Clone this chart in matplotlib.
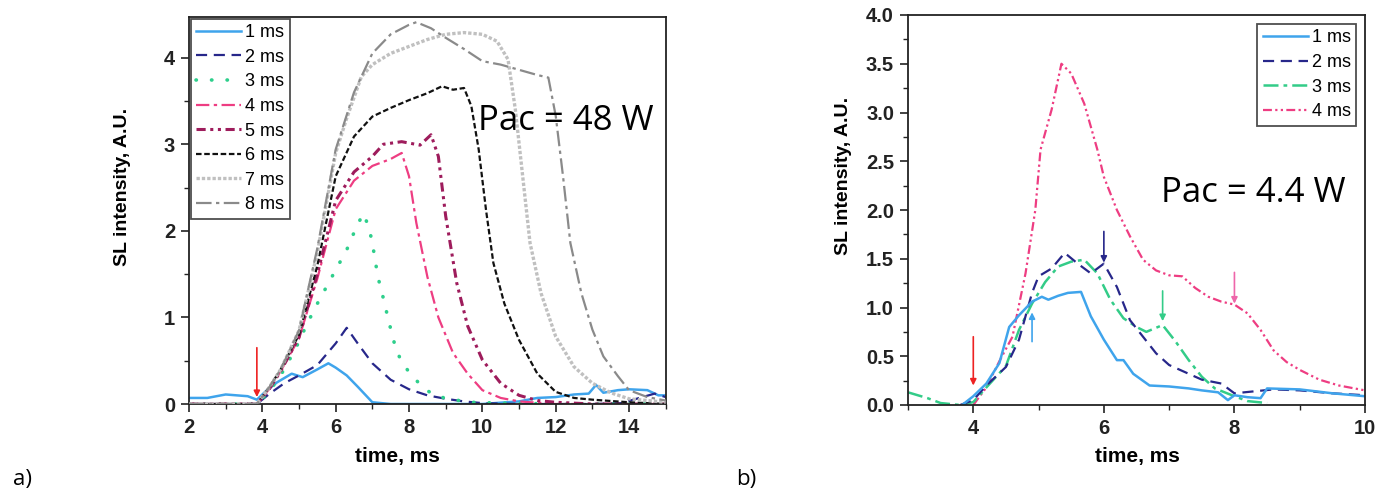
import matplotlib
matplotlib.use("Agg")
import matplotlib.pyplot as plt
from matplotlib.ticker import MultipleLocator, FormatStrFormatter

plt.rcParams['font.family'] = ['Liberation Sans', 'DejaVu Sans']
plt.rcParams['font.weight'] = 'bold'
plt.rcParams['xtick.labelsize'] = 14.5
plt.rcParams['ytick.labelsize'] = 14.5

# ---------------- data: panel a (Pac = 48 W) ----------------
a_labels = ["1 ms", "2 ms", "3 ms", "4 ms", "5 ms", "6 ms", "7 ms", "8 ms"]

a1_x = [2.0, 2.5, 3.0, 3.3, 3.6, 3.85, 4.1, 4.4, 4.8, 5.1, 5.5, 5.8, 6.0, 6.3, 6.6, 7.0, 7.5, 8, 9, 10,
        11.0, 11.5, 12.0, 12.5, 12.9, 13.1, 13.3, 13.7, 14.0, 14.5, 14.8, 15.0]
a1_y = [0.07, 0.07, 0.11, 0.10, 0.09, 0.05, 0.15, 0.25, 0.35, 0.31, 0.40, 0.47, 0.42, 0.33, 0.20, 0.02, 0.0, 0, 0, 0,
        0.03, 0.07, 0.08, 0.11, 0.12, 0.22, 0.13, 0.16, 0.17, 0.16, 0.10, 0.10]

a2_x = [2, 3, 3.85, 4.2, 4.6, 5.0, 5.5, 6.0, 6.3, 6.6, 7.0, 7.5, 8.0, 8.5, 9.0, 9.5, 10, 11, 12, 13, 13.8, 14.2, 14.7, 15]
a2_y = [0, 0, 0, 0.12, 0.24, 0.33, 0.45, 0.70, 0.88, 0.70, 0.47, 0.28, 0.17, 0.10, 0.06, 0.03, 0.01, 0, 0, 0, 0.01, 0.06, 0.12, 0.08]

a3_x = [2, 3.85, 4.2, 4.6, 5.0, 5.2, 5.5, 5.95, 6.3, 6.55, 6.75, 6.9, 7.0, 7.15, 7.3, 7.45, 7.65, 7.85, 8.1, 8.4, 8.75, 9.2, 9.7, 10.5, 12, 15]
a3_y = [0, 0, 0.15, 0.4, 0.72, 0.91, 1.16, 1.51, 1.78, 2.03, 2.2, 2.05, 1.86, 1.47, 1.22, 0.95, 0.62, 0.45, 0.32, 0.18, 0.09, 0.05, 0.02, 0.01, 0, 0]

a4_x = [2, 3.85, 4.2, 4.5, 5.0, 5.5, 6.0, 6.5, 7.0, 7.5, 7.8, 8.0, 8.2, 8.5, 8.8, 9.2, 9.6, 10.0, 10.5, 11.0, 12, 15]
a4_y = [0, 0, 0.18, 0.38, 0.76, 1.45, 2.25, 2.58, 2.75, 2.83, 2.90, 2.63, 2.09, 1.47, 1.00, 0.59, 0.35, 0.16, 0.07, 0.03, 0, 0]

a5_x = [2, 3.85, 4.2, 4.5, 5.0, 5.5, 6.0, 6.5, 7.0, 7.3, 7.8, 8.3, 8.6, 8.8, 9.0, 9.3, 9.6, 10.0, 10.5, 11.0, 11.5, 12.0, 13, 15]
a5_y = [0, 0, 0.18, 0.38, 0.77, 1.5, 2.35, 2.68, 2.86, 3.0, 3.03, 2.99, 3.11, 2.86, 2.17, 1.40, 0.90, 0.51, 0.24, 0.10, 0.04, 0.02, 0, 0]

a6_x = [2, 3.85, 4.2, 4.5, 5.0, 5.5, 6.0, 6.5, 7.0, 7.5, 8.0, 8.5, 8.9, 9.2, 9.5, 9.7, 9.9, 10.1, 10.3, 10.6, 11.0, 11.5, 12.0, 12.5, 13.0, 14.0, 15]
a6_y = [0, 0, 0.2, 0.4, 0.8, 1.6, 2.63, 3.09, 3.32, 3.42, 3.51, 3.59, 3.67, 3.63, 3.65, 3.44, 2.94, 2.24, 1.63, 1.16, 0.74, 0.35, 0.14, 0.07, 0.05, 0.02, 0]

a7_x = [2, 3.85, 4.2, 4.5, 5.0, 5.5, 6.0, 6.3, 6.7, 7.0, 7.5, 8.0, 8.5, 9.0, 9.5, 10.0, 10.4, 10.7, 10.9, 11.1, 11.3, 11.6, 12.0, 12.5, 13.0, 13.5, 14.0, 15]
a7_y = [0, 0, 0.2, 0.4, 0.85, 1.75, 2.9, 3.3, 3.78, 3.92, 4.05, 4.13, 4.21, 4.27, 4.29, 4.27, 4.19, 3.98, 3.40, 2.63, 1.86, 1.28, 0.78, 0.43, 0.24, 0.13, 0.06, 0.02]

a8_x = [2, 3.85, 4.2, 4.5, 5.0, 5.5, 6.0, 6.5, 7.0, 7.5, 8.0, 8.2, 8.6, 9.0, 9.5, 10.0, 10.5, 11.0, 11.5, 11.8, 12.0, 12.2, 12.4, 12.7, 13.0, 13.3, 13.7, 14.0, 14.5, 15]
a8_y = [0, 0, 0.2, 0.4, 0.85, 1.8, 2.94, 3.6, 4.05, 4.27, 4.38, 4.41, 4.34, 4.23, 4.10, 3.96, 3.92, 3.86, 3.80, 3.77, 3.33, 2.63, 1.86, 1.28, 0.86, 0.55, 0.32, 0.16, 0.08, 0.04]

# ---------------- data: panel b (Pac = 4.4 W) ----------------
b_labels = ["1 ms", "2 ms", "3 ms", "4 ms"]

b1_x = [3.83, 4.0, 4.2, 4.4, 4.55, 4.7, 4.9, 5.05, 5.15, 5.3, 5.45, 5.65, 5.8, 6.0, 6.2, 6.3, 6.45, 6.7, 7.0, 7.3, 7.5,
        7.75, 7.9, 8.0, 8.2, 8.4, 8.5, 9.0, 9.5, 10.0]
b1_y = [0.0, 0.09, 0.22, 0.43, 0.80, 0.92, 1.06, 1.11, 1.08, 1.12, 1.15, 1.16, 0.91, 0.67, 0.46, 0.46, 0.32, 0.20, 0.19, 0.17, 0.15,
        0.13, 0.05, 0.10, 0.08, 0.07, 0.17, 0.16, 0.12, 0.09]

b2_x = [3.8, 4.0, 4.2, 4.5, 4.7, 4.9, 5.0, 5.2, 5.4, 5.6, 5.8, 6.0, 6.2, 6.4, 6.6, 6.8, 7.0, 7.3, 7.5, 7.8, 8.0, 8.3, 8.6, 9.0, 9.5, 10.0]
b2_y = [0.0, 0.05, 0.20, 0.39, 0.67, 1.15, 1.32, 1.40, 1.56, 1.45, 1.35, 1.45, 1.21, 0.87, 0.70, 0.53, 0.41, 0.32, 0.26, 0.22, 0.12, 0.14, 0.16, 0.15, 0.12, 0.10]

b3_x = [3.0, 3.3, 3.5, 3.8, 4.0, 4.2, 4.5, 4.7, 4.9, 5.1, 5.3, 5.5, 5.7, 5.9, 6.1, 6.3, 6.5, 6.65, 6.9, 7.1, 7.3, 7.5, 7.7, 8.0, 8.2, 8.5]
b3_y = [0.13, 0.07, 0.02, 0.0, 0.03, 0.18, 0.40, 0.77, 1.04, 1.26, 1.42, 1.47, 1.49, 1.35, 1.08, 0.89, 0.80, 0.75, 0.82, 0.65, 0.46, 0.29, 0.17, 0.09, 0.04, 0.02]

b4_x = [4.0, 4.2, 4.4, 4.6, 4.8, 4.95, 5.03, 5.2, 5.35, 5.5, 5.7, 5.9, 6.0, 6.2, 6.4, 6.6, 6.8, 7.0, 7.2, 7.4, 7.6, 7.8, 8.0,
        8.2, 8.4, 8.6, 8.8, 9.0, 9.3, 9.6, 10.0]
b4_y = [0.0, 0.18, 0.45, 0.70, 1.35, 2.0, 2.62, 3.03, 3.50, 3.40, 3.09, 2.62, 2.34, 2.00, 1.73, 1.49, 1.38, 1.33, 1.32, 1.20, 1.11, 1.06, 1.03,
        0.94, 0.77, 0.56, 0.44, 0.36, 0.26, 0.20, 0.15]

# arrows (x, tail y, tip y)
a_arrow_x = [3.85]
a_arrow_tail = [0.65]
a_arrow_tip = [0.08]

b_arrow_x = [4.0, 4.9, 6.0, 6.9, 8.0]
b_arrow_tail = [0.70, 0.65, 1.78, 1.17, 1.36]
b_arrow_tip = [0.20, 0.95, 1.46, 0.86, 1.04]

# ---------------- styles ----------------
a_styles = [
    dict(color="#3fa4ec", ls="-", lw=1.8),
    dict(color="#27278a", ls=(0, (5, 3)), lw=1.6),
    dict(color="#2ecf8c", ls=(0, (0.1, 4.2)), lw=2.6, dash_capstyle="round"),
    dict(color="#ee3d82", ls=(0, (6, 2, 1.5, 2)), lw=1.6),
    dict(color="#9e1c5c", ls=(0, (3, 1.5, 1, 1.5, 1, 1.5)), lw=2.2),
    dict(color="#111111", ls=(0, (2.5, 1.2)), lw=1.6),
    dict(color="#c0c0c0", ls=(0, (1, 0.6)), lw=2.4),
    dict(color="#8a8a8a", ls=(0, (7, 2, 1.5, 2)), lw=1.6),
]
b_styles = [
    dict(color="#3fa4ec", ls="-", lw=1.8),
    dict(color="#27278a", ls=(0, (5, 3)), lw=1.6),
    dict(color="#33cc88", ls=(0, (6, 2, 1.5, 2)), lw=1.8),
    dict(color="#ee3d82", ls=(0, (4, 1.5, 1, 1.5, 1, 1.5)), lw=1.6),
]
b_arrow_colors = ["#ee2222", "#3fa4ec", "#27278a", "#33cc88", "#ee66aa"]

legend_prop = dict(family=['Liberation Sans', 'DejaVu Sans'], weight='normal', size=13)

fig = plt.figure(figsize=(13.95, 5.0), dpi=100)
axa = fig.add_axes([0.1355, 0.192, 0.3417, 0.774])
axb = fig.add_axes([0.6509, 0.19, 0.3276, 0.78])

# panel a
a_series = [(a1_x, a1_y), (a2_x, a2_y), (a3_x, a3_y), (a4_x, a4_y),
            (a5_x, a5_y), (a6_x, a6_y), (a7_x, a7_y), (a8_x, a8_y)]
handles_a = [None] * 8
for i in [7, 6, 5, 4, 3, 2, 1, 0]:
    xs, ys = a_series[i]
    ln, = axa.plot(xs, ys, label=a_labels[i], zorder=2 + i * 0.1, **a_styles[i])
    handles_a[i] = ln
axa.set_xlim(2, 15)
axa.set_ylim(0, 4.47)
axa.xaxis.set_major_locator(MultipleLocator(2))
axa.xaxis.set_minor_locator(MultipleLocator(1))
axa.yaxis.set_major_locator(MultipleLocator(1))
axa.yaxis.set_minor_locator(MultipleLocator(0.5))
for k in range(len(a_arrow_x)):
    axa.annotate("", xy=(a_arrow_x[k], a_arrow_tip[k]), xytext=(a_arrow_x[k], a_arrow_tail[k]),
                 arrowprops=dict(arrowstyle="-|>", color="#ee2222", lw=1.2, mutation_scale=9,
                                 shrinkA=0, shrinkB=0), zorder=6)
axa.text(9.88, 3.17, "Pac = 48 W", fontsize=25, family=['Open Sans', 'DejaVu Sans'], fontweight='normal',
         ha='left', va='baseline', zorder=7)
leg_a = axa.legend(handles=handles_a, loc='upper left', bbox_to_anchor=(0.0, 1.0), borderaxespad=0.1,
                   prop=legend_prop, handlelength=2.5, handletextpad=0.2, labelspacing=0.42,
                   frameon=True, fancybox=False, borderpad=0.3)
leg_a.get_frame().set_edgecolor("#222222")
leg_a.get_frame().set_linewidth(1.3)
axa.set_xlabel("time, ms", fontsize=15, fontweight='bold')
axa.set_ylabel("SL intensity, A.U.", fontsize=14, fontweight='bold')
axa.xaxis.set_label_coords(0.438, -0.111)
axa.yaxis.set_label_coords(-0.122, 0.56)

# panel b
b_series = [(b1_x, b1_y), (b2_x, b2_y), (b3_x, b3_y), (b4_x, b4_y)]
handles_b = []
for i, (xs, ys) in enumerate(b_series):
    ln, = axb.plot(xs, ys, label=b_labels[i], zorder=2 + (3 - i) * 0.1, **b_styles[i])
    handles_b.append(ln)
axb.set_xlim(3, 10)
axb.set_ylim(0, 4.0)
axb.xaxis.set_major_locator(MultipleLocator(2))
axb.xaxis.set_minor_locator(MultipleLocator(1))
axb.yaxis.set_major_locator(MultipleLocator(0.5))
axb.yaxis.set_minor_locator(MultipleLocator(0.25))
axb.yaxis.set_major_formatter(FormatStrFormatter('%.1f'))
for k in range(len(b_arrow_x)):
    axb.annotate("", xy=(b_arrow_x[k], b_arrow_tip[k]), xytext=(b_arrow_x[k], b_arrow_tail[k]),
                 arrowprops=dict(arrowstyle="-|>", color=b_arrow_colors[k], lw=1.2, mutation_scale=9,
                                 shrinkA=0, shrinkB=0), zorder=6)
axb.text(6.88, 2.08, "Pac = 4.4 W", fontsize=25, family=['Open Sans', 'DejaVu Sans'], fontweight='normal',
         ha='left', va='baseline', zorder=7)
leg_b = axb.legend(handles=handles_b, loc='upper right', borderaxespad=0.5,
                   prop=legend_prop, handlelength=2.5, handletextpad=0.2, labelspacing=0.42,
                   frameon=True, fancybox=False, borderpad=0.3)
leg_b.get_frame().set_edgecolor("#222222")
leg_b.get_frame().set_linewidth(1.3)
axb.set_xlabel("time, ms", fontsize=15, fontweight='bold')
axb.set_ylabel("SL intensity, A.U.", fontsize=14, fontweight='bold')
axb.xaxis.set_label_coords(0.501, -0.108)
axb.yaxis.set_label_coords(-0.123, 0.587)

for ax in (axa, axb):
    for sp in ax.spines.values():
        sp.set_linewidth(1.3)
        sp.set_color("#222222")
    ax.tick_params(which='major', direction='out', length=6, width=1.2, colors="#222222", pad=4)
    ax.tick_params(which='minor', direction='out', length=3.5, width=1.0, colors="#222222")

fig.text(0.009, 0.02, "a)", fontsize=16, family=['Open Sans', 'DejaVu Sans'], fontweight='normal',
         ha='left', va='bottom')
fig.text(0.528, 0.02, "b)", fontsize=16, family=['Open Sans', 'DejaVu Sans'], fontweight='normal',
         ha='left', va='bottom')

fig.savefig("out.png", dpi=100)
